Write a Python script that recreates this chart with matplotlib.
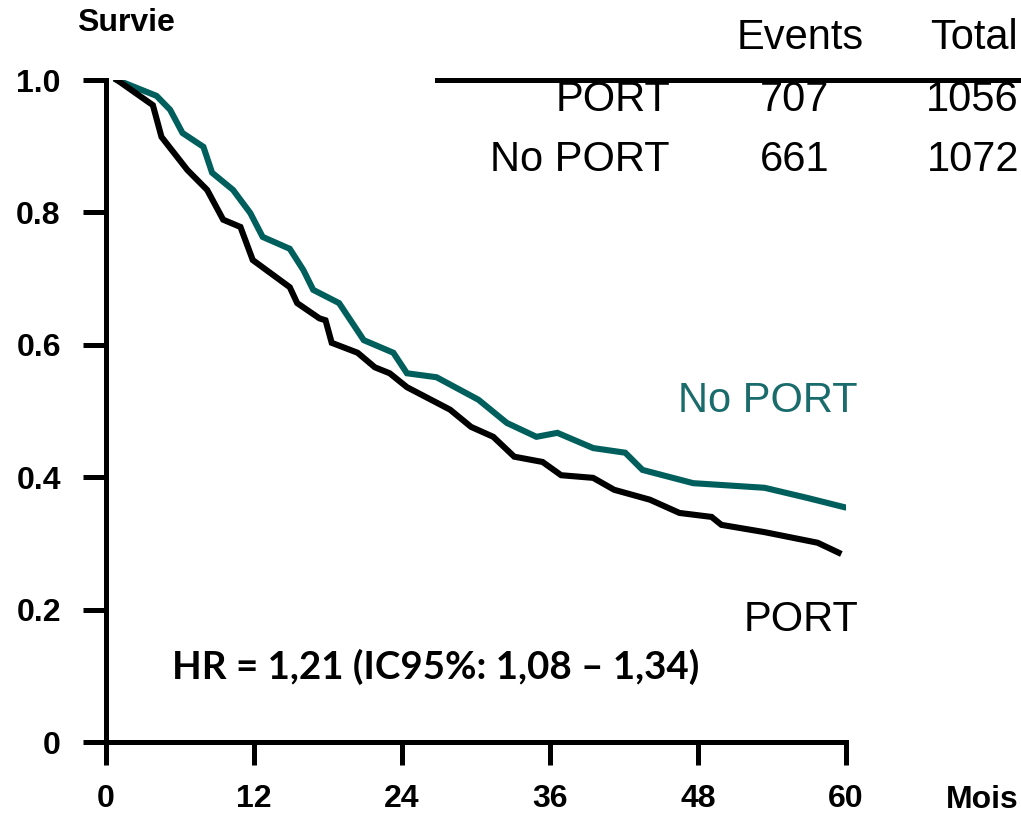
import matplotlib
matplotlib.use('agg')
import matplotlib.pyplot as plt

# survival curves (months, survival)
port_months = [0.9, 3.8, 4.5, 6.6, 8.2, 9.5, 10.9, 11.9, 14.9, 15.5, 17.3, 17.8, 18.3, 20.4,
               21.8, 23.0, 24.4, 27.9, 29.6, 31.4, 33.1, 35.4, 36.9, 39.5, 41.2, 44.1, 46.5,
               49.1, 49.9, 53.4, 57.7, 59.4]
port_surv = [1.0, 0.962, 0.914, 0.864, 0.834, 0.789, 0.778, 0.728, 0.687, 0.663, 0.640, 0.637,
             0.603, 0.588, 0.566, 0.557, 0.536, 0.502, 0.476, 0.461, 0.431, 0.423, 0.403, 0.399,
             0.381, 0.366, 0.346, 0.340, 0.328, 0.317, 0.301, 0.286]

noport_months = [0.9, 4.1, 5.2, 6.2, 7.9, 8.6, 10.3, 11.7, 12.7, 14.9, 16.0, 16.8, 18.9, 20.9,
                 23.3, 24.4, 26.8, 30.2, 32.5, 34.9, 36.6, 39.5, 42.1, 43.5, 47.6, 53.4, 56.8, 59.8]
noport_surv = [1.0, 0.976, 0.955, 0.92, 0.899, 0.86, 0.834, 0.799, 0.763, 0.745, 0.713, 0.683,
               0.663, 0.607, 0.588, 0.557, 0.551, 0.517, 0.482, 0.461, 0.467, 0.444, 0.437, 0.411,
               0.391, 0.384, 0.369, 0.355]

x_ticks = [0, 12, 24, 36, 48, 60]
y_ticks = [0, 0.2, 0.4, 0.6, 0.8, 1.0]
y_labels = ['0', '0.2', '0.4', '0.6', '0.8', '1.0']

table_header = ['Events', 'Total']
table_groups = ['PORT', 'No PORT']
table_events = ['707', '661']
table_total = ['1056', '1072']

teal = '#005f5c'
W, H = 1021, 816

plt.rcParams['font.family'] = ['Liberation Sans', 'DejaVu Sans']

fig = plt.figure(figsize=(W / 100, H / 100), dpi=100)
ax = fig.add_axes([106 / W, 1 - 742 / H, 740 / W, 662 / H])

ax.plot(noport_months, noport_surv, color=teal, lw=4.4, solid_joinstyle='miter')
ax.plot(port_months, port_surv, color='black', lw=4.4, solid_joinstyle='miter')

ax.set_xlim(0, 60)
ax.set_ylim(0, 1)
ax.set_xticks(x_ticks)
ax.set_xticklabels([str(t) for t in x_ticks])
ax.set_yticks(y_ticks)
ax.set_yticklabels(y_labels)

for s in ['top', 'right']:
    ax.spines[s].set_visible(False)
for s in ['left', 'bottom']:
    ax.spines[s].set_linewidth(3.6)
    ax.spines[s].set_capstyle('projecting')

ax.tick_params(axis='both', direction='out', length=16.5, width=3.6, labelsize=23)
ax.tick_params(axis='y', pad=16)
ax.tick_params(axis='x', pad=14)
for lab in ax.get_xticklabels() + ax.get_yticklabels():
    lab.set_fontweight('bold')

# axis titles
fig.text(126 / W, 1 - 23 / H, 'Survie', ha='center', va='center', fontsize=23, fontweight='bold')
fig.text(982 / W, 1 - 800 / H, 'Mois', ha='center', va='center', fontsize=23, fontweight='bold')

# table at the top right
fig.add_artist(plt.Line2D([437 / W, 1], [1 - 80 / H, 1 - 80 / H], color='black', lw=3.6))
fig.text(864 / W, 1 - 38 / H, table_header[0], ha='right', va='center', fontsize=30)
fig.text(1018 / W, 1 - 38 / H, table_header[1], ha='right', va='center', fontsize=30)
for i, grp in enumerate(table_groups):
    yy = 1 - (100 + 60 * i) / H
    fig.text(670 / W, yy, grp, ha='right', va='center', fontsize=30)
    fig.text(829 / W, yy, table_events[i], ha='right', va='center', fontsize=30)
    fig.text(1019 / W, yy, table_total[i], ha='right', va='center', fontsize=30)

# curve labels
fig.text(858 / W, 1 - 401 / H, 'No PORT', ha='right', va='center', fontsize=30, color='#1a6b6b')
fig.text(858 / W, 1 - 620 / H, 'PORT', ha='right', va='center', fontsize=30)

fig.text(172 / W, 1 - 667 / H, 'HR = 1,21 (IC95%: 1,08 \u2013 1,34)', ha='left', va='center',
         fontsize=27.7, fontweight='bold', family=['Lato', 'DejaVu Sans'])

fig.savefig('out.png', dpi=100)
